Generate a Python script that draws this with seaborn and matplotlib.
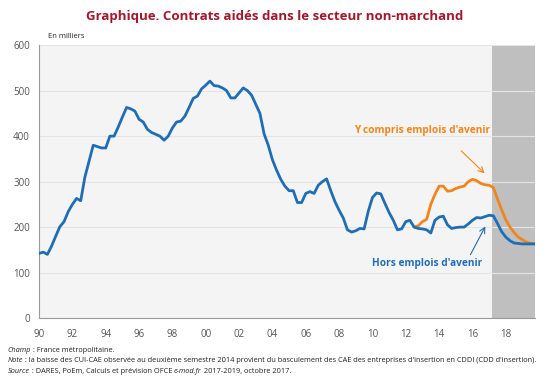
import numpy as np
import pandas as pd
import matplotlib
matplotlib.use("Agg")
import matplotlib.pyplot as plt
import seaborn as sns

# quarterly data, 1990Q1 - 2019Q4, in thousands
hors_emplois_avenir = [
    142, 145, 140, 158,   # 1990
    180, 201, 212, 234,   # 1991
    250, 263, 258, 310,   # 1992
    345, 380, 377, 374,   # 1993
    374, 400, 400, 420,   # 1994
    442, 463, 460, 455,   # 1995
    437, 431, 415, 408,   # 1996
    404, 400, 391, 400,   # 1997
    418, 431, 433, 444,   # 1998
    463, 483, 488, 504,   # 1999
    512, 521, 511, 510,   # 2000
    506, 500, 484, 484,   # 2001
    495, 506, 500, 490,   # 2002
    470, 450, 405, 380,   # 2003
    348, 325, 305, 290,   # 2004
    280, 280, 254, 254,   # 2005
    274, 278, 274, 292,   # 2006
    300, 306, 280, 256,   # 2007
    237, 220, 194, 189,   # 2008
    192, 197, 196, 235,   # 2009
    265, 275, 273, 252,   # 2010
    232, 215, 194, 196,   # 2011
    212, 215, 200, 197,   # 2012
    196, 194, 187, 215,   # 2013
    222, 224, 205, 197,   # 2014
    199, 200, 200, 207,   # 2015
    215, 221, 220, 223,   # 2016
    226, 225, 208, 190,   # 2017
    178, 170, 165, 164,   # 2018
    163, 163, 163, 163,   # 2019
]
# "Y compris emplois d'avenir" starts in 2012Q3
y_compris_start = 2012.5
y_compris_emplois_avenir = [
    200, 203,             # 2012
    212, 217, 250, 272,   # 2013
    290, 290, 279, 280,   # 2014
    285, 288, 290, 300,   # 2015
    305, 302, 296, 293,   # 2016
    292, 287, 262, 238,   # 2017
    216, 200, 188, 178,   # 2018
    172, 167, 164, 163,   # 2019
]
prevision_start = 2017.2
year_ticks = list(range(1990, 2020, 2))
tick_labels = [f"{y % 100:02d}" for y in year_ticks]

dates = 1990 + np.arange(len(hors_emplois_avenir)) / 4
df_hors = pd.DataFrame({"date": dates, "valeur": hors_emplois_avenir})
dates_y = y_compris_start + np.arange(len(y_compris_emplois_avenir)) / 4
df_y = pd.DataFrame({"date": dates_y, "valeur": y_compris_emplois_avenir})

blue = "#1f6db5"
orange = "#f08519"
red_title = "#a3172b"
txt = "#222222"

sns.set_style("white")
plt.rcParams["font.family"] = ["Open Sans", "DejaVu Sans"]

fig = plt.figure(figsize=(5.5, 3.86), dpi=100)
ax = fig.add_axes([0.071, 0.176, 0.902, 0.707])
ax.set_facecolor("#f4f4f4")

xmax = dates[-1] + 0.01
ax.axvspan(prevision_start, xmax, color="#bfbfbf", lw=0, zorder=0.5)
for v in range(100, 700, 100):
    ax.axhline(v, color="#e4e4e4", lw=0.8, zorder=0.6)

sns.lineplot(data=df_hors, x="date", y="valeur", color=blue, lw=2, ax=ax, zorder=3)
sns.lineplot(data=df_y, x="date", y="valeur", color=orange, lw=2, ax=ax, zorder=2)

ax.set_xlim(1990, xmax)
ax.set_ylim(0, 600)
ax.set_xticks(year_ticks)
ax.set_xticklabels(tick_labels)
ax.set_yticks(range(0, 700, 100))
ax.set_xlabel("")
ax.set_ylabel("")
ax.tick_params(axis="both", labelsize=7, colors="#555555", length=3, width=0.6)
ax.tick_params(axis="x", pad=5)
for s in ["top", "right"]:
    ax.spines[s].set_visible(False)
for s in ["left", "bottom"]:
    ax.spines[s].set_color("#999999")
    ax.spines[s].set_linewidth(0.8)

# series labels with arrows
ax.annotate("", xy=(2016.85, 314), xytext=(2015.2, 372),
            arrowprops=dict(arrowstyle="->", color=orange, lw=0.8))
ax.text(2013.0, 412, "Y compris emplois d'avenir", color=orange,
        fontsize=7.3, fontweight="bold", ha="center", va="center")
ax.annotate("", xy=(2016.85, 207), xytext=(2015.8, 134),
            arrowprops=dict(arrowstyle="->", color=blue, lw=0.8))
ax.text(2013.3, 120, "Hors emplois d'avenir", color=blue,
        fontsize=7.3, fontweight="bold", ha="center", va="center")

fig.text(0.5, 0.958, "Graphique. Contrats aidés dans le secteur non-marchand",
         color=red_title, fontsize=9.5, fontweight="bold", ha="center", va="center")
fig.text(0.087, 0.905, "En milliers", fontsize=5.5, color=txt, va="center")

# footnotes: pieces alternate italic / normal, chained one after the other
notes = [
    [("Champ", True), (" : France métropolitaine.", False)],
    [("Note", True), (" : la baisse des CUI-CAE observée au deuxième semestre 2014 provient du "
                      "basculement des CAE des entreprises d'insertion en CDDI (CDD d'insertion).", False)],
    [("Source", True), (" : DARES, PoEm, Calculs et prévision OFCE ", False),
     ("e-mod.fr", True), (" 2017-2019, octobre 2017.", False)],
]
ys = [0.089, 0.061, 0.033]
for pieces, yy in zip(notes, ys):
    prev = None
    for s, ital in pieces:
        style = "italic" if ital else "normal"
        if prev is None:
            prev = fig.text(0.014, yy, s, fontsize=5.3, style=style, color=txt, va="baseline")
        else:
            prev = ax.annotate(s, xy=(1, 0), xycoords=prev, fontsize=5.3, style=style,
                               color=txt, va="bottom", annotation_clip=False)

fig.savefig("out.png", dpi=100, facecolor="white")
